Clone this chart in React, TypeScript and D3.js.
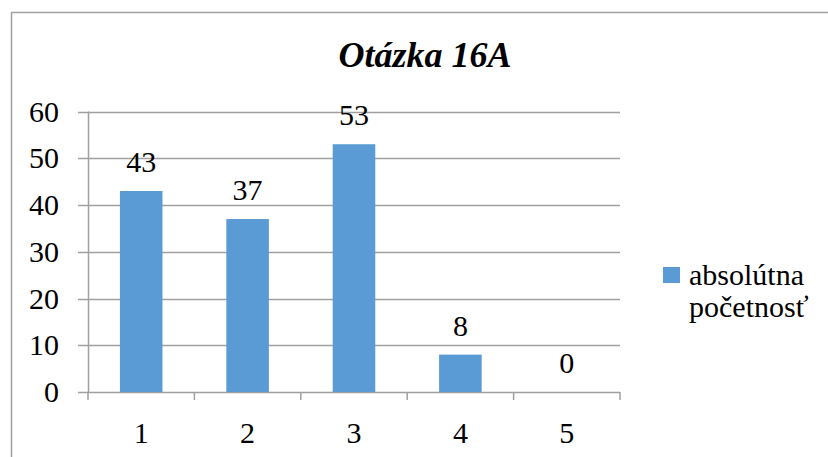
import React from 'react';
import * as d3 from 'd3';

const categories = ['1', '2', '3', '4', '5'];
const values = [43, 37, 53, 8, 0];
const yTicks = [0, 10, 20, 30, 40, 50, 60];
const title = 'Otázka 16A';
const legendLines = ['absolútna', 'početnosť'];

const width = 828;
const height = 457;
const grey = '#a0a0a0';
const barColor = '#5b9bd5';
const serif = { fontFamily: "'Times New Roman', Tinos, 'Liberation Serif', FreeSerif, serif" };

const x = d3.scaleBand().domain(categories).range([88, 620]).paddingInner(0).paddingOuter(0);
const y = d3.scaleLinear().domain([0, 60]).range([392, 111.5]);

const App = () => {
  const bw = x.bandwidth() * 0.4;
  const bounds = categories.map((c) => x(c) as number).concat([620]);

  return (
    <svg width={width} height={height} style={{ position: 'absolute', left: 0, top: 0, background: 'white' }}>
      {/* chart border, only left and top edges fall inside the crop */}
      <rect x={11.5} y={12.5} width={width + 20} height={height + 20} fill="white" stroke={grey} strokeWidth={1.5} />

      <text x={425} y={67} textAnchor="middle" fontSize={36} fontWeight="bold" fontStyle="italic" style={serif}>
        {title}
      </text>

      {yTicks.map((t) => (
        <g key={t}>
          <line x1={78} x2={620} y1={Math.round(y(t)) + 0.5} y2={Math.round(y(t)) + 0.5} stroke={grey} strokeWidth={1.5} />
          <text x={59} y={y(t) + 10} textAnchor="end" fontSize={30} style={serif}>
            {String(t)}
          </text>
        </g>
      ))}

      <line x1={88.5} x2={88.5} y1={y(60)} y2={y(0)} stroke={grey} strokeWidth={1.5} />
      {bounds.map((b) => (
        <line key={b} x1={b} x2={b} y1={y(0)} y2={y(0) + 8} stroke={grey} strokeWidth={1.5} />
      ))}

      {values.map((v, i) => {
        const cx = (x(categories[i]) as number) + x.bandwidth() / 2;
        return (
          <g key={i}>
            <rect x={cx - bw / 2} y={y(v)} width={bw} height={y(0) - y(v)} fill={barColor} />
            <text x={cx} y={y(v) - 19} textAnchor="middle" fontSize={30} style={serif}>
              {String(v)}
            </text>
          </g>
        );
      })}

      {categories.map((c) => (
        <text key={c} x={(x(c) as number) + x.bandwidth() / 2} y={443} textAnchor="middle" fontSize={30} style={serif}>
          {c}
        </text>
      ))}

      <rect x={663} y={267} width={17} height={16} fill={barColor} />
      {legendLines.map((t, i) => (
        <text key={t} x={689} y={285 + i * 32} fontSize={30} style={serif}>
          {t}
        </text>
      ))}
    </svg>
  );
};

export default App;
